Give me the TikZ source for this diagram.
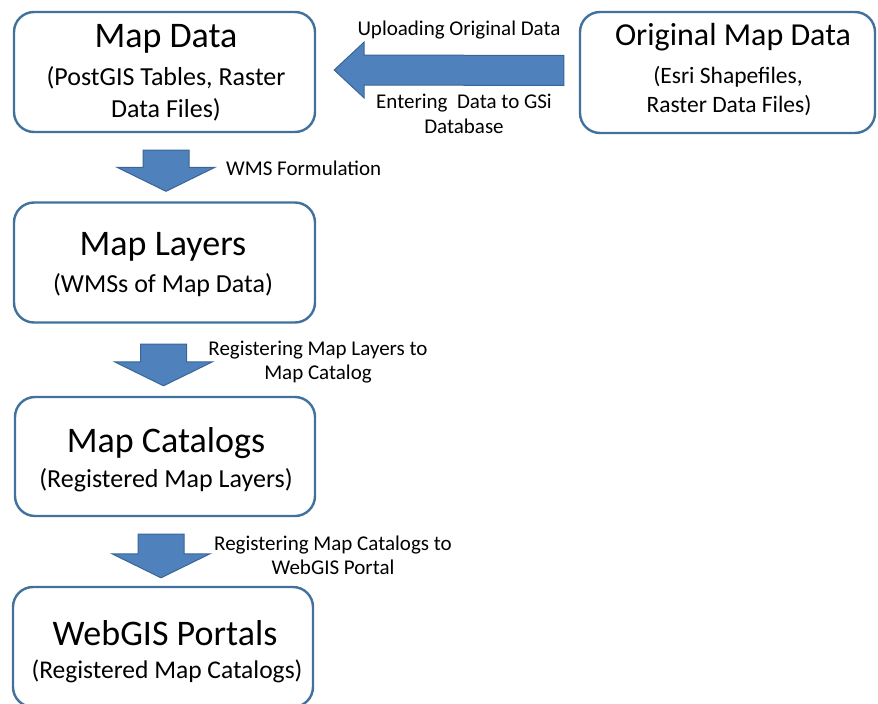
\documentclass[tikz,border=0pt]{standalone}
\usepackage{fontspec}
\setmainfont{Carlito}
\usetikzlibrary{calc}
\definecolor{boxline}{HTML}{41719C}
\definecolor{arrowfill}{HTML}{4F81BD}
\definecolor{arrowline}{HTML}{3A6597}
\newcommand\flowdownarrow[2]{%
  \draw[blockarrow] ($(#1)+(-23,0)$) -- ($(#1)+(23,0)$) -- ($(#2)+(23,-24)$) -- ($(#2)+(49,-24)$) -- (#2) -- ($(#2)+(-49,-24)$) -- ($(#2)+(-23,-24)$) -- cycle;}
\begin{document}
\begin{tikzpicture}[x=1pt,y=-1pt,
  stage/.style={rectangle, draw=boxline, line width=2.4pt, rounded corners=20pt, fill=white,
    minimum width=301pt, minimum height=120pt, inner sep=0pt},
  title/.style={anchor=base, inner sep=0pt, font=\fontsize{36}{40}\selectfont},
  sub/.style={anchor=base, inner sep=0pt, font=\fontsize{26}{30}\selectfont},
  lbl/.style={anchor=base, inner sep=0pt, font=\fontsize{21}{25}\selectfont},
  blockarrow/.style={fill=arrowfill, draw=arrowline, line width=1pt, line join=miter}]
\useasboundingbox (0,0) rectangle (878,704);
\clip (0,0) rectangle (878,704);

% boxes
\node[stage] (data) at (164.5,72) {};
\node[stage, minimum width=295pt, minimum height=121pt] (orig) at (727.5,72.5) {};
\node[stage] (layers) at (164.5,262.5) {};
\node[stage, minimum width=300pt, minimum height=119pt] (cat) at (165,456.5) {};
\node[stage, minimum width=300pt] (web) at (163,647) {};

% box texts
\node[title] (t1) at (166,47) {Map Data};
\node[sub] (s1a) at (166,85) {(PostGIS Tables, Raster};
\node[sub] (s1b) at (166,117) {Data Files)};

\node[title, font=\fontsize{32}{36}\selectfont] (t2) at (733,45) {Original Map Data};
\node[sub, font=\fontsize{23.5}{28}\selectfont] (s2a) at (728,83) {(Esri Shapefiles,};
\node[sub, font=\fontsize{23.5}{28}\selectfont] (s2b) at (729,112) {Raster Data Files)};

\node[title] (t3) at (163,255) {Map Layers};
\node[sub] (s3) at (163,292) {(WMSs of Map Data)};

\node[title] (t4) at (166,452) {Map Catalogs};
\node[sub] (s4) at (166,487) {(Registered Map Layers)};

\node[title] (t5) at (165,645) {WebGIS Portals};
\node[sub, font=\fontsize{25.5}{30}\selectfont] (s5) at (167,678) {(Registered Map Catalogs)};

% horizontal block arrow
\coordinate (hT) at ($(orig.west)+(-15,-2)$);
\coordinate (hH) at ($(data.east)+(18,-2)$);
\draw[blockarrow] ($(hT)+(0,-15)$) -- ($(hH)+(30,-15)$) -- ($(hH)+(30,-28)$) -- (hH)
  -- ($(hH)+(30,28)$) -- ($(hH)+(30,15)$) -- ($(hT)+(0,15)$) -- cycle;

% down block arrows
\coordinate (a1s) at ($(data.south)+(1.5,17)$);
\coordinate (a1e) at ($(layers.north)+(1.5,-10)$);
\flowdownarrow{a1s}{a1e}
\coordinate (a2s) at ($(layers.south)+(-1,20.5)$);
\coordinate (a2e) at ($(cat.north)+(-1.5,-10)$);
\flowdownarrow{a2s}{a2e}
\coordinate (a3s) at ($(cat.south)+(-4,17)$);
\coordinate (a3e) at ($(web.north)+(-2,-8)$);
\flowdownarrow{a3s}{a3e}

% labels
\node[lbl] (l1) at (459,35) {Uploading Original Data};
\node[lbl] (l2a) at (464,108) {Entering~~Data to GSi};
\node[lbl] (l2b) at (464,133) {Database};
\node[lbl, anchor=base west] (l3) at (226,175) {WMS Formulation};
\node[lbl] (l4a) at (318,355) {Registering Map Layers to};
\node[lbl] (l4b) at (318,379) {Map Catalog};
\node[lbl] (l5a) at (333,550) {Registering Map Catalogs to};
\node[lbl] (l5b) at (333,574) {WebGIS Portal};
\end{tikzpicture}
\end{document}
